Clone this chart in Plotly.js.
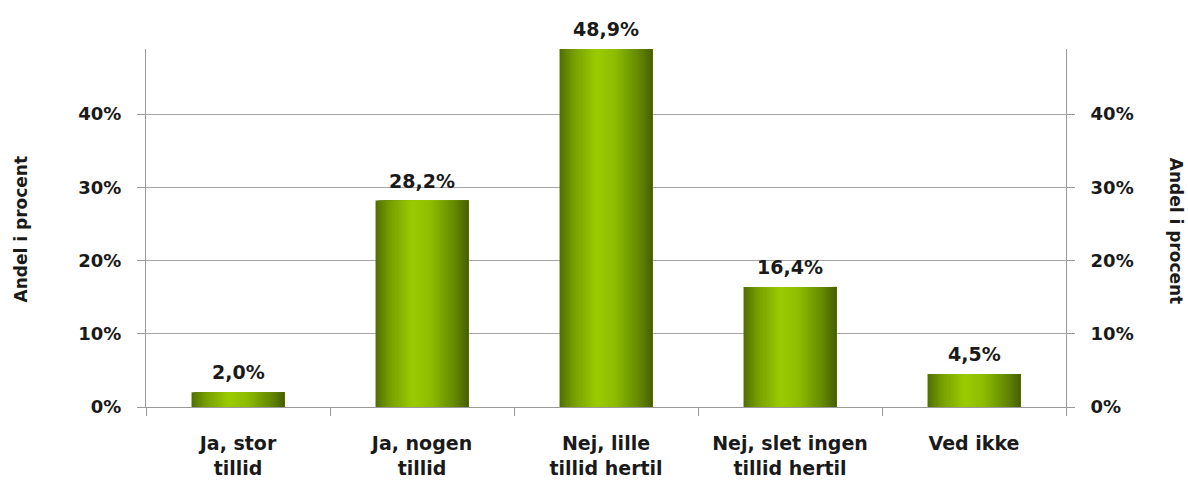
<!DOCTYPE html>
<html>
<head>
<meta charset="utf-8">
<script src="https://cdn.plot.ly/plotly-3.0.1.min.js"></script>
<style>html,body{margin:0;padding:0;background:#fff;}#chart{width:1188px;height:481px;}</style>
</head>
<body>
<div id="chart"></div>
<script>
// ---- data ----
const categories = ["Ja, stor<br>tillid", "Ja, nogen<br>tillid", "Nej, lille<br>tillid hertil", "Nej, slet ingen<br>tillid hertil", "Ved ikke"];
const values = [2.0, 28.2, 48.9, 16.4, 4.5];
const tickVals = [0, 10, 20, 30, 40];
const tickLabels = ["0%", "10%", "20%", "30%", "40%"];
const axisTitle = "Andel i procent";

// ---- style ----
const FONT = "DejaVu Sans";
const BAR_W = 0.505;
const N = 40;
const stops = [
  [0.00, [80, 110, 0]],
  [0.15, [118, 158, 0]],
  [0.40, [155, 204, 0]],
  [0.60, [140, 188, 0]],
  [0.85, [100, 136, 0]],
  [1.00, [70, 96, 0]]
];
function gradColor(t) {
  for (let k = 0; k < stops.length - 1; k++) {
    const [t0, c0] = stops[k], [t1, c1] = stops[k + 1];
    if (t >= t0 && t <= t1) {
      const f = (t - t0) / (t1 - t0);
      const c = c0.map((v, j) => Math.round(v + (c1[j] - v) * f));
      return `rgb(${c[0]},${c[1]},${c[2]})`;
    }
  }
  return "rgb(70,96,0)";
}

const traces = [];
const sw = BAR_W / N;
for (let i = 0; i < N; i++) {
  // each slice runs from its start to the bar's right edge; later slices paint over
  traces.push({
    type: "bar",
    x: categories,
    y: values,
    width: categories.map(() => BAR_W - i * sw),
    offset: categories.map(() => -BAR_W / 2 + i * sw),
    marker: { color: gradColor((i + 0.5) / N), line: { width: 0 } },
    hoverinfo: "skip",
    showlegend: false
  });
}
// invisible trace to anchor the right axis
traces.push({
  type: "scatter", x: categories, y: values, yaxis: "y2",
  mode: "markers", marker: { opacity: 0 }, hoverinfo: "skip", showlegend: false
});

const fmt = v => v.toFixed(1).replace(".", ",") + "%";
const annotations = categories.map((c, i) => ({
  x: c, y: values[i], xref: "x", yref: "y",
  text: fmt(values[i]), showarrow: false,
  yanchor: "middle", yshift: 20,
  font: { family: FONT, size: 19, color: "#1a1a1a", weight: "bold" }
}));
annotations.push({
  xref: "paper", yref: "paper", x: -0.1355, y: 0.497, xanchor: "center", yanchor: "middle",
  text: axisTitle, textangle: -90, showarrow: false,
  font: { family: FONT, size: 17, color: "#1a1a1a", weight: "bold" }
});
annotations.push({
  xref: "paper", yref: "paper", x: 1.1205, y: 0.49, xanchor: "center", yanchor: "middle",
  text: axisTitle, textangle: 90, showarrow: false,
  font: { family: FONT, size: 17, color: "#1a1a1a", weight: "bold" }
});

const yCommon = {
  range: [0, 48.9],
  tickvals: tickVals, ticktext: tickLabels,
  ticks: "outside", ticklen: 8, tickcolor: "#9a9a9a", tickwidth: 1,
  showline: true, linecolor: "#9a9a9a", linewidth: 1,
  zeroline: false,
  tickfont: { family: FONT, size: 18, color: "#1a1a1a", weight: "bold" },
  ticklabelstandoff: 12,
  fixedrange: true
};

const layout = {
  width: 1188, height: 481,
  margin: { l: 146, r: 122, t: 49, b: 74 },
  paper_bgcolor: "#ffffff", plot_bgcolor: "#ffffff",
  barmode: "overlay",
  bargap: 0.5,
  xaxis: {
    type: "category",
    tickson: "boundaries",
    ticks: "outside", ticklen: 8, tickcolor: "#9a9a9a", tickwidth: 1,
    showline: true, linecolor: "#9a9a9a", linewidth: 1,
    showgrid: false, zeroline: false,
    tickfont: { family: FONT, size: 19, color: "#1a1a1a", weight: "bold" },
    ticklabelstandoff: 19,
    fixedrange: true
  },
  yaxis: Object.assign({}, yCommon, {
    showgrid: true, gridcolor: "#a6a6a6", gridwidth: 1, side: "left"
  }),
  yaxis2: Object.assign({}, yCommon, {
    overlaying: "y", side: "right", showgrid: false
  }),
  annotations: annotations,
  showlegend: false
};

Plotly.newPlot("chart", traces, layout, { displayModeBar: false, staticPlot: true });
</script>
</body>
</html>
